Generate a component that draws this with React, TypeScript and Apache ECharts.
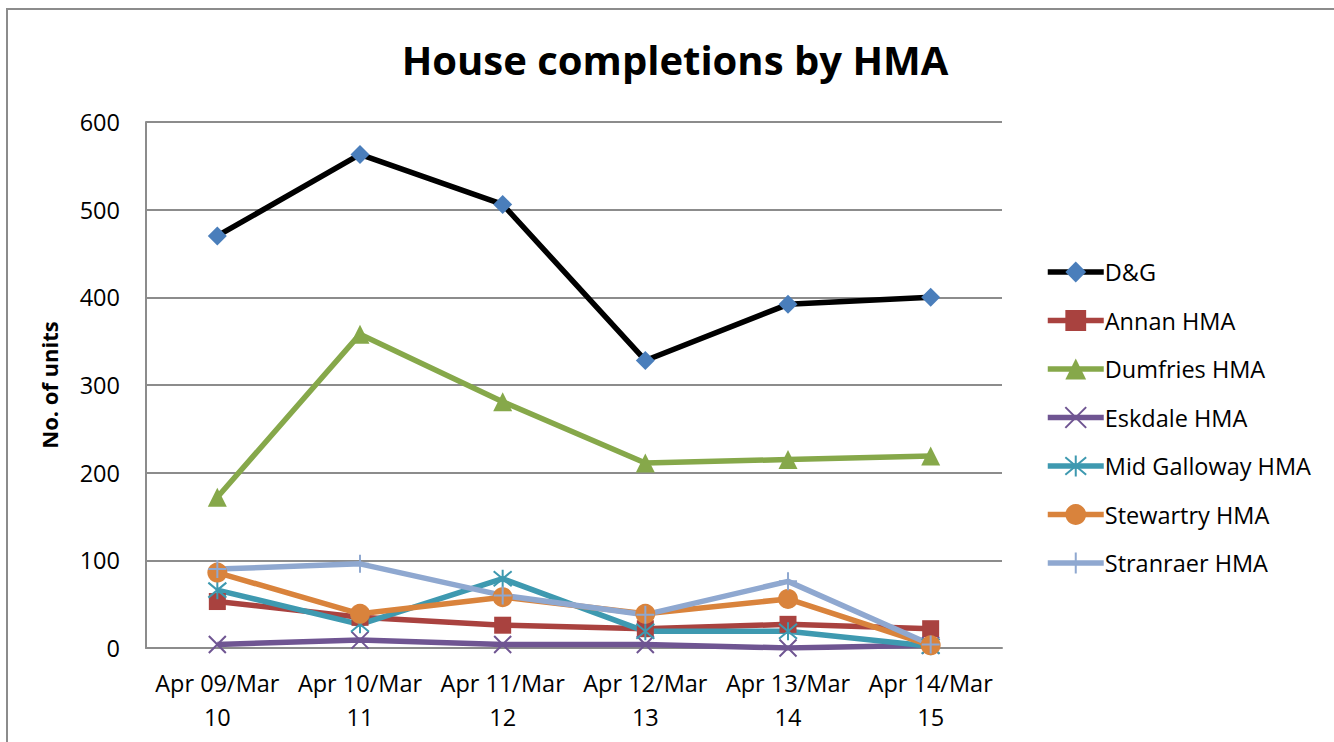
import React, { useEffect, useRef } from "react";
import * as echarts from "echarts";

const categories = ["Apr 09/Mar\n10", "Apr 10/Mar\n11", "Apr 11/Mar\n12", "Apr 12/Mar\n13", "Apr 13/Mar\n14", "Apr 14/Mar\n15"];
const dgValues = [470, 563, 506, 328, 392, 400];
const annanValues = [53, 35, 26, 22, 27, 22];
const dumfriesValues = [172, 358, 281, 211, 215, 219];
const eskdaleValues = [4, 9, 4, 4, 0, 3];
const midGallowayValues = [66, 27, 79, 19, 19, 2];
const stewartryValues = [86, 39, 58, 39, 56, 3];
const stranraerValues = [90, 96, 60, 38, 76, 4];
const yTicks = { min: 0, max: 600, interval: 100 };

const FONT = "'Open Sans', 'Noto Sans', sans-serif";

const X_PATH = "path://M0,0L10,10M10,0L0,10";
const STAR_PATH = "path://M0,0L10,10M10,0L0,10M5,-1L5,11";
const PLUS_PATH = "path://M5,0L5,10M0,5L10,5";

function mkSeries(name: string, data: number[], line: string, marker: string, symbol: string, size: number, stroke: boolean) {
  return {
    name,
    type: "line",
    data,
    symbol,
    symbolSize: size,
    showAllSymbol: true,
    lineStyle: { color: line, width: 5.5 },
    itemStyle: stroke
      ? { color: marker, borderColor: marker, borderWidth: 2 }
      : { color: marker, borderWidth: 0 },
    emphasis: { disabled: true },
  };
}

export default function App() {
  const ref = useRef<HTMLDivElement>(null);
  useEffect(() => {
    if (!ref.current) return;
    const chart = echarts.init(ref.current, null, { renderer: "svg" });
    chart.setOption({
      animation: false,
      backgroundColor: "#ffffff",
      title: {
        text: "House completions by HMA",
        left: 670,
        textAlign: "center",
        top: 34,
        textStyle: { fontFamily: FONT, fontWeight: "bold", fontSize: 40, color: "#000" },
      },
      graphic: [
        {
          type: "rect",
          shape: { x: 7, y: 9, width: 1400, height: 800 },
          style: { fill: "none", stroke: "#8c8c8c", lineWidth: 2 },
          silent: true,
        },
      ],
      legend: {
        orient: "vertical",
        left: 1040,
        top: 255,
        itemWidth: 56,
        itemHeight: 26,
        itemGap: 24.5,
        lineStyle: { width: 5.5 },
        textStyle: { fontFamily: FONT, fontSize: 23.5, color: "#000", padding: [0, 0, 0, -4] },
        data: ["D&G", "Annan HMA", "Dumfries HMA", "Eskdale HMA", "Mid Galloway HMA", "Stewartry HMA", "Stranraer HMA"],
      },
      grid: { left: 146, top: 122, right: 332, bottom: 94, containLabel: false },
      xAxis: {
        type: "category",
        data: categories,
        boundaryGap: true,
        axisLine: { lineStyle: { color: "#8c8c8c", width: 2 } },
        axisTick: { show: false },
        axisLabel: { fontFamily: FONT, fontSize: 23.5, color: "#000", margin: 18, lineHeight: 34, interval: 0 },
      },
      yAxis: {
        type: "value",
        min: yTicks.min,
        max: yTicks.max,
        interval: yTicks.interval,
        name: "No. of units",
        nameLocation: "middle",
        nameRotate: 90,
        nameGap: 86,
        nameTextStyle: { fontFamily: FONT, fontWeight: "bold", fontSize: 22, color: "#000" },
        axisLine: { show: true, lineStyle: { color: "#8c8c8c", width: 2 } },
        axisTick: { show: false },
        splitLine: { lineStyle: { color: "#8c8c8c", width: 2 } },
        axisLabel: { fontFamily: FONT, fontSize: 23.5, color: "#000", margin: 26 },
      },
      series: [
        mkSeries("D&G", dgValues, "#000000", "#4A7EBB", "diamond", 19, false),
        mkSeries("Annan HMA", annanValues, "#A9423F", "#A9423F", "rect", 17, false),
        mkSeries("Dumfries HMA", dumfriesValues, "#86A84A", "#86A84A", "triangle", 19, false),
        mkSeries("Eskdale HMA", eskdaleValues, "#6F5592", "#6F5592", X_PATH, 17, true),
        mkSeries("Mid Galloway HMA", midGallowayValues, "#3E99B0", "#3E99B0", STAR_PATH, 18, true),
        mkSeries("Stewartry HMA", stewartryValues, "#D9833C", "#D9833C", "circle", 20, false),
        mkSeries("Stranraer HMA", stranraerValues, "#8FA8D0", "#8FA8D0", PLUS_PATH, 18, true),
      ],
    });
    return () => chart.dispose();
  }, []);
  return (
    <div
      ref={ref}
      style={{ position: "fixed", left: 0, top: 0, width: 1334, height: 742, background: "#fff" }}
    />
  );
}
